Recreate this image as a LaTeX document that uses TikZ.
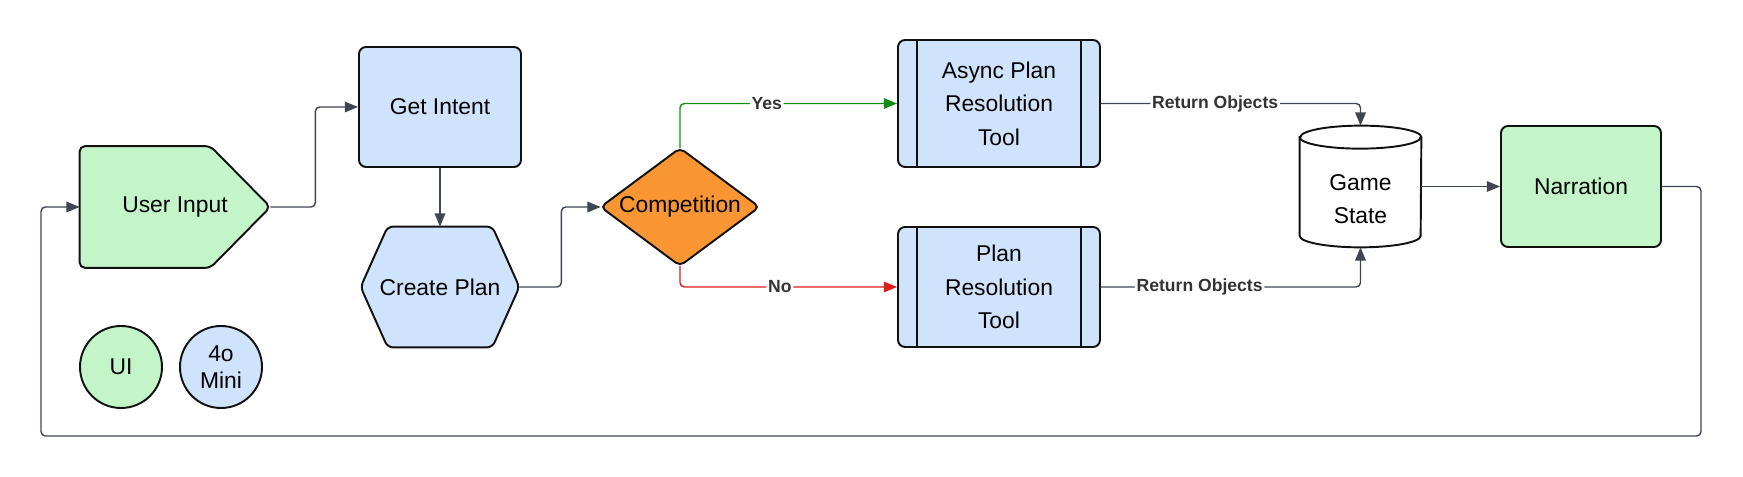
\documentclass[tikz,border=0pt]{standalone}
\usepackage{fontspec}
\setmainfont{Liberation Sans}
\usetikzlibrary{positioning,calc,arrows.meta,backgrounds}
\definecolor{ngreen}{HTML}{C3F5C9}
\definecolor{nblue}{HTML}{CFE3FC}
\definecolor{norange}{HTML}{F99532}
\definecolor{nline}{HTML}{3F4552}
\definecolor{nyes}{HTML}{128C12}
\definecolor{nno}{HTML}{E11B1B}
\definecolor{nborder}{HTML}{111111}
\tikzset{
    flow/.style={draw=nline, line width=0.8pt, rounded corners=2.5pt, -{Triangle[length=7.5pt,width=6pt]}},
    yesflow/.style={flow, draw=nyes, -{Triangle[length=7.5pt,width=6pt,fill=nyes]}},
    noflow/.style={flow, draw=nno, -{Triangle[length=7.5pt,width=6pt,fill=nno]}},
    lbl/.style={fill=white, inner sep=1pt, text=black!80, font=\bfseries\fontsize{10}{12}\selectfont}
}
\begin{document}
\begin{tikzpicture}[
    box/.style={draw=nborder, line width=1.1pt, rounded corners=4pt, align=center, inner sep=0pt, font=\fontsize{13}{19}\selectfont},
    plain/.style={align=center, inner sep=0pt, font=\fontsize{13}{19}\selectfont},
    outline/.style={draw=nborder, line width=1.1pt, rounded corners=3pt},
    key/.style={draw=nborder, line width=1.1pt, circle, minimum size=1.64cm, inner sep=0pt, align=center, font=\fontsize{13}{15.5}\selectfont}
]
    \useasboundingbox (0,0) rectangle (34.86,-9.54);

    \node[plain, minimum width=3.8cm, minimum height=2.42cm] (uinput) at (3.5,-4.14) {User Input};
    \node[box, fill=nblue, minimum width=3.24cm, minimum height=2.4cm] (intent) at (8.8,-2.14) {Get Intent};
    \node[plain, minimum width=3.16cm, minimum height=2.4cm] (cplan) at (8.8,-5.74) {Create Plan};
    \node[plain, minimum width=3.16cm, minimum height=2.34cm] (comp) at (13.6,-4.14) {Competition};
    \node[box, fill=nblue, minimum width=4.04cm, minimum height=2.54cm] (async) at (19.98,-2.07) {Async Plan\\Resolution\\Tool};
    \node[box, fill=nblue, minimum width=4.04cm, minimum height=2.4cm] (plan) at (19.98,-5.74) {Plan\\Resolution\\Tool};
    \node[plain, minimum width=2.42cm, minimum height=2.42cm] (gstate) at (27.21,-3.73) {};
    \node[plain] (gtext) at ([yshift=-0.25cm]gstate.center) {Game\\State};
    \node[box, fill=ngreen, minimum width=3.2cm, minimum height=2.42cm] (narr) at (31.62,-3.73) {Narration};
    \node[key, fill=ngreen] (ui) at (2.42,-7.34) {UI};
    \node[key, fill=nblue] (mini) at (4.42,-7.34) {4o\\Mini};

    \begin{scope}[on background layer]
        \draw[outline, fill=ngreen] (uinput.north west) -- ([xshift=-1.2cm]uinput.north east) -- (uinput.east)
            -- ([xshift=-1.2cm]uinput.south east) -- (uinput.south west) -- cycle;
        \draw[outline, fill=nblue] (cplan.west) -- ([xshift=0.54cm]cplan.north west) -- ([xshift=-0.54cm]cplan.north east)
            -- (cplan.east) -- ([xshift=-0.54cm]cplan.south east) -- ([xshift=0.54cm]cplan.south west) -- cycle;
        \draw[outline, fill=norange] (comp.west) -- (comp.north) -- (comp.east) -- (comp.south) -- cycle;
        \draw[draw=nborder, line width=1.1pt, fill=white] ([yshift=-0.23cm]gstate.north west) -- ([yshift=0.23cm]gstate.south west)
            arc[start angle=180, end angle=360, x radius=1.21cm, y radius=0.23cm]
            -- ([yshift=-0.23cm]gstate.north east)
            arc[start angle=0, end angle=180, x radius=1.21cm, y radius=0.23cm] -- cycle;
        \draw[draw=nborder, line width=1.1pt] ([yshift=-0.23cm]gstate.north west)
            arc[start angle=180, end angle=360, x radius=1.21cm, y radius=0.23cm];
    \end{scope}

    \draw[draw=nborder, line width=1.1pt] ([xshift=0.4cm]async.north west) -- ([xshift=0.4cm]async.south west);
    \draw[draw=nborder, line width=1.1pt] ([xshift=-0.4cm]async.north east) -- ([xshift=-0.4cm]async.south east);
    \draw[draw=nborder, line width=1.1pt] ([xshift=0.4cm]plan.north west) -- ([xshift=0.4cm]plan.south west);
    \draw[draw=nborder, line width=1.1pt] ([xshift=-0.4cm]plan.north east) -- ([xshift=-0.4cm]plan.south east);

    \coordinate (fbR) at (34.02,-8.72);
    \coordinate (fbL) at (0.82,-8.72);

    \draw[flow] (uinput.east) -- ++(0.9,0) |- (intent.west);
    \draw[flow] (intent) -- (cplan);
    \draw[flow] (cplan.east) -- ++(0.84,0) |- (comp.west);
    \draw[yesflow] (comp.north) |- node[lbl, pos=0.7] {Yes} (async.west);
    \draw[noflow] (comp.south) |- node[lbl, pos=0.73] {No} (plan.west);
    \draw[flow] (async.east) -| node[lbl, pos=0.22] {Return Objects} (gstate.north);
    \draw[flow] (plan.east) -| node[lbl, pos=0.19] {Return Objects} (gstate.south);
    \draw[flow] (gstate.east) -- (narr.west);
    \draw[flow] (narr.east) -| (fbR) -- (fbL) |- (uinput.west);
\end{tikzpicture}
\end{document}
